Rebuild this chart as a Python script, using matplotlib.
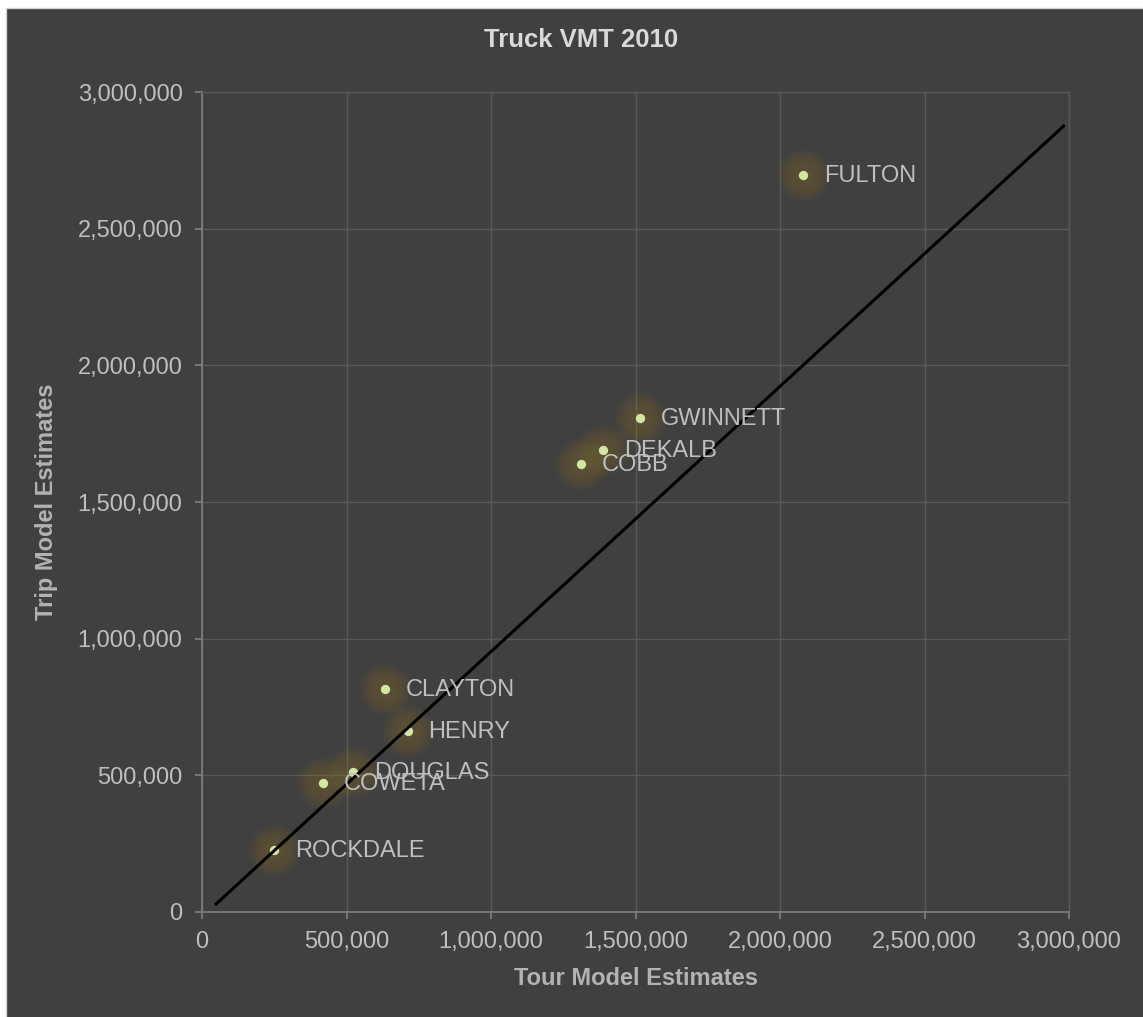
import numpy as np
import matplotlib
matplotlib.use("Agg")
import matplotlib.pyplot as plt
import matplotlib.patches as mpatches
from matplotlib.ticker import FuncFormatter, MultipleLocator

plt.rcParams["font.family"] = ["Liberation Sans", "DejaVu Sans"]

# data
counties = ["FULTON", "GWINNETT", "DEKALB", "COBB", "CLAYTON",
            "HENRY", "DOUGLAS", "COWETA", "ROCKDALE"]
tour_est = [2081000, 1517000, 1389000, 1310000, 632000,
            712000, 522000, 418000, 249000]
trip_est = [2697000, 1807000, 1690000, 1639000, 816000,
            662000, 512000, 472000, 227000]

# reference line drawn in the chart
line_x = [45000, 2985000]
line_y = [25600, 2879000]

_bg = "#404040"
_grid = "#595959"
_text = "#bfbfbf"


def fmt_thousands(value, _):
    return f"{int(value):,}"


fig = plt.figure(figsize=(11.43, 10.17), dpi=100)
fig.patch.set_facecolor("#ffffff")
fig.patches.append(
    mpatches.Rectangle((6 / 1143, -0.05), 1.1, 1.05 - 8 / 1017, transform=fig.transFigure,
                       facecolor=_bg, edgecolor="#d0d0d0", linewidth=1, zorder=-10)
)

ax = fig.add_axes([202 / 1143, 1 - 912 / 1017, 867 / 1143, 820 / 1017])
ax.set_facecolor(_bg)

ax.set_xlim(0, 3000000)
ax.set_ylim(0, 3000000)
ax.xaxis.set_major_locator(MultipleLocator(500000))
ax.yaxis.set_major_locator(MultipleLocator(500000))
ax.xaxis.set_major_formatter(FuncFormatter(fmt_thousands))
ax.yaxis.set_major_formatter(FuncFormatter(fmt_thousands))

ax.grid(which="major", color=_grid, linewidth=1.0, zorder=0)
ax.set_axisbelow(True)

for side in ["top", "right"]:
    ax.spines[side].set_color(_grid)
    ax.spines[side].set_linewidth(1.0)
for side in ["left", "bottom"]:
    ax.spines[side].set_color("#808080")
    ax.spines[side].set_linewidth(1.2)

ax.tick_params(axis="both", direction="out", length=5, width=1.2, color="#808080",
               labelsize=17, labelcolor=_text, pad=9)

# soft glow behind each point (stacked translucent discs)
for _s in np.linspace(1500, 120, 14):
    ax.scatter(tour_est, trip_est, s=_s, color="#9c8634", alpha=0.026,
               linewidths=0, zorder=3)
ax.scatter(tour_est, trip_est, s=45, color="#d4e6a1", linewidths=0, zorder=5)

ax.plot(line_x, line_y, color="black", linewidth=2.2, zorder=6, solid_capstyle="butt")

for _name, _x, _y in zip(counties, tour_est, trip_est):
    ax.annotate(_name, (_x, _y), xytext=(15, -1), textcoords="offset points",
                ha="left", va="center", fontsize=17, color=_text, zorder=7)

ax.set_xlabel("Tour Model Estimates", fontsize=17, fontweight="bold",
              color="#b3b3b3", labelpad=10)
ax.set_ylabel("Trip Model Estimates", fontsize=17, fontweight="bold",
              color="#b3b3b3", labelpad=14)

fig.text(581 / 1143, 1 - 40 / 1017, "Truck VMT 2010", ha="center", va="center",
         fontsize=18.5, fontweight="bold", color="#d9d9d9")

plt.savefig("out.png", dpi=100, facecolor=fig.get_facecolor())
